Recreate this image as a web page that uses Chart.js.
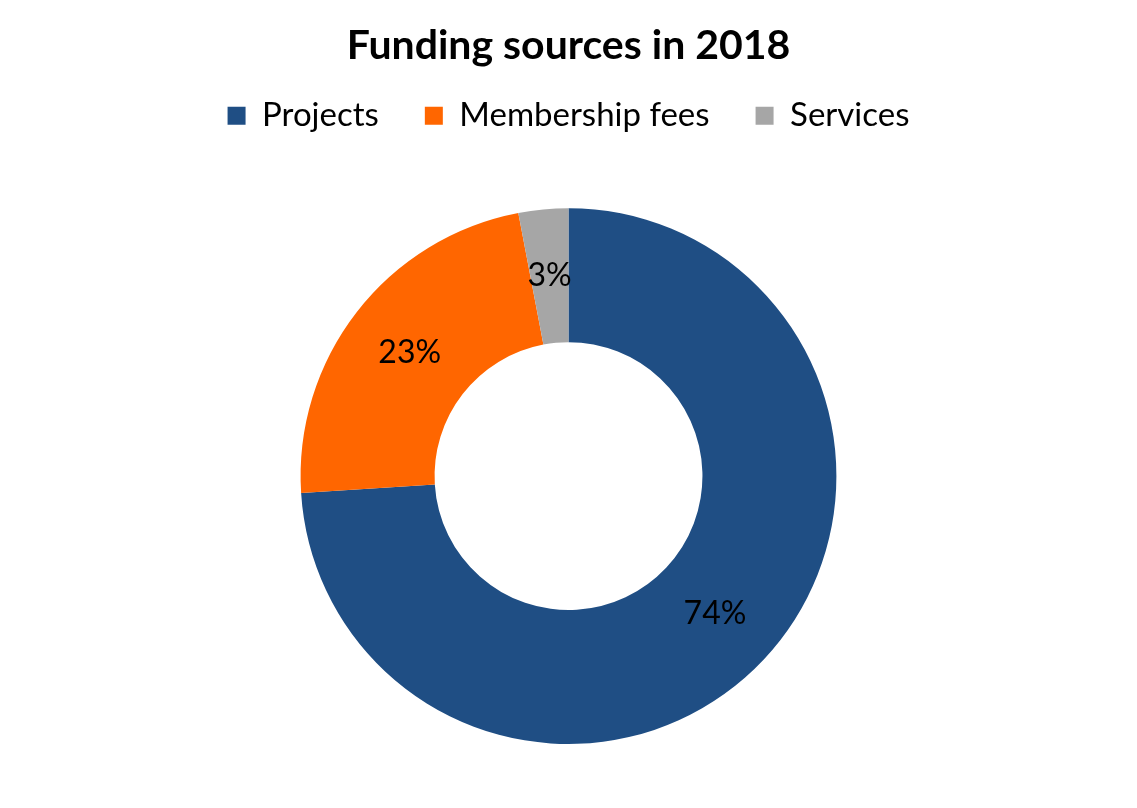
<!DOCTYPE html>
<html>
<head>
<meta charset="utf-8">
<script src="https://cdn.jsdelivr.net/npm/chart.js@4"></script>
<style>
  html, body { margin: 0; padding: 0; background: #fff; }
  #wrap { width: 1137px; height: 808px; }
</style>
</head>
<body>
<div id="wrap"><canvas id="grafico"></canvas></div>
<script>
// dados
const categorias = ['Projects', 'Membership fees', 'Services'];
const valores = [74, 23, 3];
const cores = ['#1F4E84', '#FF6600', '#A6A6A6'];

// rótulos de porcentagem no meio de cada fatia
const rotulos = {
    id: 'rotulos',
    afterDatasetsDraw(chart) {
        const ctx = chart.ctx;
        const meta = chart.getDatasetMeta(0);
        ctx.save();
        ctx.font = '32px Lato';
        ctx.fillStyle = '#000';
        ctx.textAlign = 'center';
        ctx.textBaseline = 'middle';
        meta.data.forEach((arc, i) => {
            const p = arc.getCenterPoint();
            ctx.fillText(valores[i] + '%', p.x, p.y);
        });
        ctx.restore();
    }
};

// espaço extra abaixo da legenda
const espacoLegenda = {
    id: 'espacoLegenda',
    beforeInit(chart) {
        const fitOriginal = chart.legend.fit;
        chart.legend.fit = function () {
            fitOriginal.bind(chart.legend)();
            this.height += 66;
        };
    }
};

const ctx = document.getElementById('grafico').getContext('2d');
const grafico = new Chart(ctx, {
    type: 'doughnut',
    data: {
        labels: categorias,
        datasets: [{
            data: valores,
            backgroundColor: cores,
            borderWidth: 0
        }]
    },
    options: {
        responsive: true,
        maintainAspectRatio: false,
        animation: false,
        cutout: '50%',
        layout: { padding: { top: 14, bottom: 64 } },
        plugins: {
            title: {
                display: true,
                text: 'Funding sources in 2018',
                color: '#000',
                font: { family: 'Lato', size: 41, weight: 'bold' },
                padding: { top: 7, bottom: -17 }
            },
            legend: {
                position: 'top',
                labels: {
                    color: '#000',
                    font: { family: 'Lato', size: 33 },
                    boxWidth: 18,
                    boxHeight: 18,
                    padding: 46
                }
            },
            tooltip: { enabled: false }
        }
    },
    plugins: [rotulos, espacoLegenda]
});
</script>
</body>
</html>
